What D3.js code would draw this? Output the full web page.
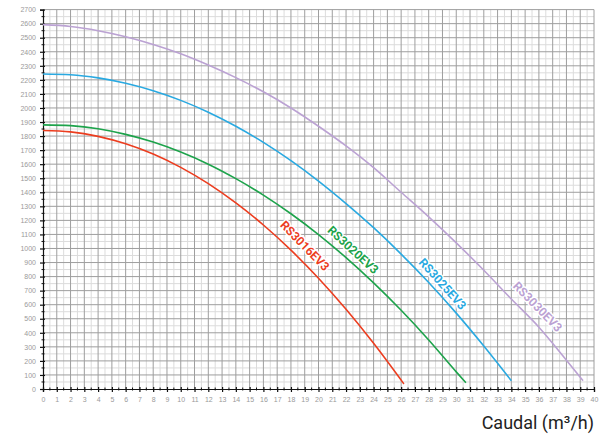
<!DOCTYPE html>
<html>
<head>
<meta charset="utf-8">
<script src="https://cdn.jsdelivr.net/npm/d3@7"></script>
<style>
    body { margin: 0; background: #fff; }
    svg { display: block; font-family: Roboto, "Open Sans", sans-serif; }
    .tickLabel { fill: #9a9a9a; font-size: 7px; }
    .curveLabel { font-weight: bold; font-size: 12px; paint-order: stroke; stroke: #fff; stroke-width: 3px; stroke-linejoin: round; }
</style>
</head>
<body>
<div id="graph"></div>
<script>
// caudal (m3/h) for each pump
const seriesNames = ["RS3016EV3", "RS3020EV3", "RS3025EV3", "RS3030EV3"];
const seriesColors = ["#ec3d1f", "#1da34b", "#29a9e1", "#bba2d3"];

const q3016 = [0, 2, 4, 6, 8, 10, 12, 14, 16, 18, 20, 22, 24, 26.2];
const h3016 = [1840, 1830, 1798, 1745, 1672, 1577, 1461, 1324, 1167, 988, 788, 567, 325, 36];

const q3020 = [0, 2, 4, 6, 8, 10, 12, 14, 16, 18, 20, 22, 24, 26, 28, 30, 30.7];
const h3020 = [1880, 1874, 1852, 1812, 1757, 1686, 1600, 1497, 1380, 1247, 1099, 935, 755, 560, 349, 122, 45];

const q3025 = [0, 2, 4, 6, 8, 10, 12, 14, 16, 18, 20, 22, 24, 26, 28, 30, 32, 34];
const h3025 = [2242, 2236, 2214, 2176, 2123, 2054, 1970, 1870, 1755, 1625, 1480, 1320, 1148, 960, 758, 540, 306, 59];

const q3030 = [0, 2, 4, 6, 8, 10, 12, 14, 16, 18, 20, 22, 24, 26, 28, 30, 32, 34, 36, 38, 39.2];
const h3030 = [2593, 2580, 2550, 2507, 2452, 2386, 2306, 2216, 2115, 2000, 1870, 1730, 1575, 1400, 1225, 1040, 845, 640, 440, 205, 59];

// where the names sit (in chart units)
const labelQ = [19.0, 22.5, 29.0, 35.9];
const labelH = [1018, 989, 747, 584];

const xTicks = d3.range(0, 41, 1);
const yTicks = d3.range(0, 2701, 100);
const xLabel = "Caudal (m\u00b3/h)";

const width = 600, height = 434;
const margin = {top: 9.6, right: 6, bottom: 45, left: 43};

const xScale = d3.scaleLinear().domain([0, 40]).range([margin.left, width - margin.right]);
const yScale = d3.scaleLinear().domain([0, 2700]).range([height - margin.bottom, margin.top]);

const svg = d3.select("#graph").append("svg")
    .attr("width", width)
    .attr("height", height);

// grid, light half steps then darker whole steps
const grid = svg.append("g");
const minorX = d3.range(0.5, 40, 1), minorY = d3.range(50, 2700, 100);
grid.selectAll(".mx").data(minorX).enter().append("line")
    .attr("x1", d => xScale(d)).attr("x2", d => xScale(d))
    .attr("y1", yScale(0)).attr("y2", yScale(2700))
    .attr("stroke", "#dcdcdc").attr("stroke-width", 1);
grid.selectAll(".my").data(minorY).enter().append("line")
    .attr("x1", xScale(0)).attr("x2", xScale(40))
    .attr("y1", d => yScale(d)).attr("y2", d => yScale(d))
    .attr("stroke", "#dcdcdc").attr("stroke-width", 1);
grid.selectAll(".gx").data(xTicks.slice(1)).enter().append("line")
    .attr("x1", d => xScale(d)).attr("x2", d => xScale(d))
    .attr("y1", yScale(0)).attr("y2", yScale(2700))
    .attr("stroke", "#9e9e9e").attr("stroke-width", 1);
grid.selectAll(".gy").data(yTicks.slice(1)).enter().append("line")
    .attr("x1", xScale(0)).attr("x2", xScale(40))
    .attr("y1", d => yScale(d)).attr("y2", d => yScale(d))
    .attr("stroke", "#9e9e9e").attr("stroke-width", 1);

// axes
const xAxis = d3.axisBottom(xScale).tickValues(xTicks).tickFormat(d3.format("d")).tickSize(3).tickPadding(5);
const yAxis = d3.axisLeft(yScale).tickValues(yTicks).tickFormat(d3.format("d")).tickSize(3).tickPadding(4);

const gx = svg.append("g")
    .attr("transform", `translate(0,${yScale(0)})`)
    .call(xAxis);
const gy = svg.append("g")
    .attr("transform", `translate(${xScale(0)},0)`)
    .call(yAxis);

[gx, gy].forEach(g => {
    g.select(".domain").attr("stroke", "#111").attr("stroke-width", 1.2);
    g.selectAll(".tick line").attr("stroke", "#111").attr("stroke-width", 1.2);
    g.selectAll(".tick text").attr("class", "tickLabel").attr("fill", null);
});
gx.selectAll(".tick line").attr("y1", -2);
gy.selectAll(".tick line").attr("x1", 2);

// half-step ticks
svg.append("g").selectAll("line").data(minorX).enter().append("line")
    .attr("x1", d => xScale(d)).attr("x2", d => xScale(d))
    .attr("y1", yScale(0) - 1.5).attr("y2", yScale(0) + 1.5)
    .attr("stroke", "#111");
svg.append("g").selectAll("line").data(minorY).enter().append("line")
    .attr("x1", xScale(0) - 1.5).attr("x2", xScale(0) + 1.5)
    .attr("y1", d => yScale(d)).attr("y2", d => yScale(d))
    .attr("stroke", "#111");

// curves
const qs = [q3016, q3020, q3025, q3030];
const hs = [h3016, h3020, h3025, h3030];

const Line = d3.line()
    .x(d => xScale(d[0]))
    .y(d => yScale(d[1]))
    .curve(d3.curveMonotoneX);

const chart = svg.append("g");
seriesNames.forEach((name, i) => {
    const pts = qs[i].map((q, j) => [q, hs[i][j]]);
    chart.append("path")
        .data([pts])
        .attr("d", Line)
        .attr("fill", "none")
        .attr("stroke", seriesColors[i])
        .attr("stroke-width", 1.6);

    // slope of the curve near the label gives the text angle
    const k = d3.bisectLeft(qs[i], labelQ[i]);
    const a = pts[Math.max(0, k - 1)], b = pts[Math.min(pts.length - 1, k)];
    const ang = Math.atan2(yScale(b[1]) - yScale(a[1]), xScale(b[0]) - xScale(a[0])) * 180 / Math.PI;
    chart.append("text")
        .attr("class", "curveLabel")
        .attr("fill", seriesColors[i])
        .attr("text-anchor", "middle")
        .attr("dominant-baseline", "central")
        .attr("transform", `translate(${xScale(labelQ[i])},${yScale(labelH[i])}) rotate(${ang})`)
        .text(name);
});

svg.append("text")
    .attr("x", 594)
    .attr("y", 429)
    .attr("text-anchor", "end")
    .attr("fill", "#222")
    .style("font-size", "18px")
    .text(xLabel);
</script>
</body>
</html>
